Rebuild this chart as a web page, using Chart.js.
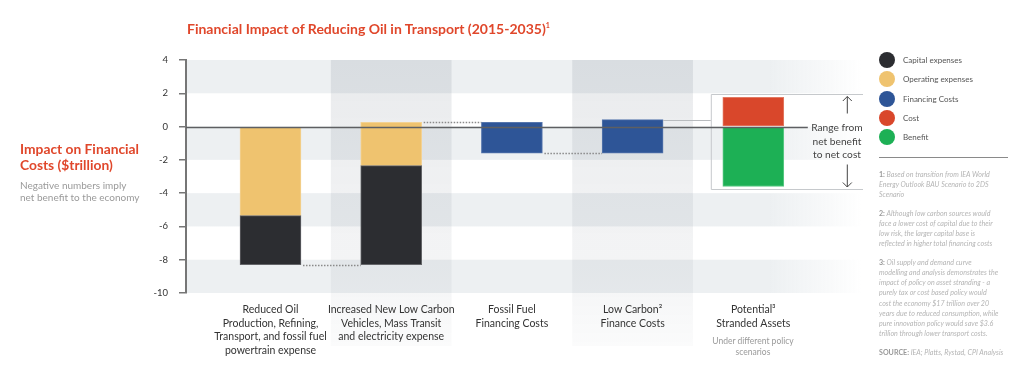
<!DOCTYPE html>
<html><head><meta charset="utf-8">
<script src="https://cdn.jsdelivr.net/npm/chart.js@4/dist/chart.umd.min.js"></script>
<style>
html,body{margin:0;padding:0;background:#fff;width:1024px;height:368px;overflow:hidden;font-family:Lato,'Open Sans',sans-serif;}
#wrap{position:relative;width:1024px;height:368px;}
canvas{position:absolute;left:0;top:0;}
.t{position:absolute;white-space:nowrap;}
.red{color:#e0472b;font-weight:700;}
.lg{position:absolute;left:879px;width:16px;height:16px;border-radius:50%;}
.ll{position:absolute;left:903px;font-size:8px;color:#555;line-height:10px;}
.fn{position:absolute;left:879px;font-size:7.1px;line-height:10.15px;color:#b5b5b5;font-style:italic;white-space:nowrap;}
.fn b{font-style:normal;color:#999;}
</style></head><body>
<div id="wrap">
<canvas id="c" width="1024" height="368"></canvas>
<div class="t red" style="left:187px;top:17px;font-size:14px;line-height:16px;">Financial Impact of Reducing Oil in Transport (2015-2035)<span style="font-size:7px;vertical-align:6px;">1</span></div>
<div class="t red" style="left:20px;top:141px;font-size:13.8px;line-height:16px;">Impact on Financial<br>Costs ($trillion)</div>
<div class="t" style="left:20px;top:180px;font-size:10px;line-height:11.5px;color:#9a9a9a;">Negative numbers imply<br>net benefit to the economy</div>
<div class="t" style="left:797px;width:80px;top:121px;font-size:10.2px;line-height:13.5px;color:#444;text-align:center;">Range from<br>net benefit<br>to net cost</div>
<div class="t" id="sub5" style="left:703px;width:100px;top:335.5px;font-size:8.5px;line-height:11px;color:#9a9a9a;text-align:center;white-space:normal;">Under different policy<br>scenarios</div>
<div id="legend"></div>
<div style="position:absolute;left:879px;top:157px;width:129px;height:1px;background:#8a8a8a;"></div>
<div class="fn" style="top:170px;"><b>1:</b> Based on transition from IEA World<br>Energy Outlook BAU Scenario to 2DS<br>Scenario</div>
<div class="fn" style="top:209px;"><b>2:</b> Although low carbon sources would<br>face a lower cost of capital due to their<br>low risk, the larger capital base is<br>reflected in higher total financing costs</div>
<div class="fn" style="top:258px;"><b>3:</b> Oil supply and demand curve<br>modelling and analysis demonstrates the<br>impact of policy on asset stranding - a<br>purely tax or cost based policy would<br>cost the economy $17 trillion over 20<br>years due to reduced consumption, while<br>pure innovation policy would save $3.6<br>trillion through lower transport costs.</div>
<div class="fn" style="top:348px;"><b>SOURCE:</b> IEA; Platts, Rystad, CPI Analysis</div>
</div>
<script>
// ---------- DATA ----------
const categories = [
  ['Reduced Oil','Production, Refining,','Transport, and fossil fuel','powertrain expense'],
  ['Increased New Low Carbon','Vehicles, Mass Transit','and electricity expense'],
  ['Fossil Fuel','Financing Costs'],
  ['Low Carbon\u00B2','Finance Costs'],
  ['Potential\u00B3','Stranded Assets']
];
const seriesNames = ['Capital expenses','Operating expenses','Financing Costs','Cost','Benefit'];
// floating bar ranges [low, high] in $trillion, per category
const capitalExpenses   = [[-8.3,-5.35],[-8.3,-2.35],null,null,null];
const operatingExpenses = [[-5.35,0],[-2.35,0.25],null,null,null];
const financingCosts    = [null,null,[-1.6,0.25],[-1.6,0.42],null];
const costValues        = [null,null,null,null,[0,1.75]];
const benefitValues     = [null,null,null,null,[-3.6,0]];
const yTicks = [4,2,0,-2,-4,-6,-8,-10];
const connectorLevels = ['low','high','low']; // waterfall links between consecutive categories

// ---------- STYLE ----------
const colors  = ['#2c2d31','#efc36f','#2e5597','#d9472b','#1db055'];
const borders = ['#646569','#f3d294','#5676ad','#e37a63','#5cc985'];
const allSeries = [capitalExpenses, operatingExpenses, financingCosts, costValues, benefitValues];

// legend
const lg = document.getElementById('legend');
seriesNames.forEach((n,i)=>{
  const cy = 60 + i*19.25;
  const d = document.createElement('div'); d.className='lg'; d.style.top=(cy-8)+'px'; d.style.background=colors[i]; lg.appendChild(d);
  const t = document.createElement('div'); t.className='ll'; t.style.top=(cy-5)+'px'; t.textContent=n; lg.appendChild(t);
});

function toPoints(arr){ const out=[]; arr.forEach((v,i)=>{ if(v) out.push({x:i,y:v}); }); return out; }

function catExtent(chart,i){
  let lo=Infinity,hi=-Infinity,left=Infinity,right=-Infinity;
  chart.data.datasets.forEach((ds,d)=>{
    const meta=chart.getDatasetMeta(d);
    ds.data.forEach((pt,k)=>{
      if(pt.x!==i) return;
      const el=meta.data[k];
      lo=Math.min(lo,pt.y[0]); hi=Math.max(hi,pt.y[1]);
      left=Math.min(left,el.x-el.width/2); right=Math.max(right,el.x+el.width/2);
    });
  });
  return {lo,hi,left,right};
}

const decor = {
  id:'decor',
  beforeDraw(chart){
    const ctx=chart.ctx, a=chart.chartArea, xs=chart.scales.x, ys=chart.scales.y;
    ctx.save();
    const fadeR = 862;
    const g = ctx.createLinearGradient(a.left,0,fadeR,0);
    g.addColorStop(0,'#edf0f2'); g.addColorStop((770-a.left)/(fadeR-a.left),'#edf0f2'); g.addColorStop(1,'rgba(237,240,242,0)');
    ctx.fillStyle=g;
    for(let k=0;k<yTicks.length-1;k+=2){
      const y0=ys.getPixelForValue(yTicks[k]), y1=ys.getPixelForValue(yTicks[k+1]);
      ctx.fillRect(a.left,y0,fadeR-a.left,y1-y0);
    }
    const bottom=346;
    const vg = ctx.createLinearGradient(0,a.top,0,bottom);
    vg.addColorStop(0,'rgba(40,55,75,0.10)'); vg.addColorStop(0.75,'rgba(40,55,75,0.05)'); vg.addColorStop(1,'rgba(40,55,75,0.02)');
    ctx.fillStyle=vg;
    [1,3].forEach(i=>{
      const x0=xs.getPixelForValue(i-0.5), x1=xs.getPixelForValue(i+0.5);
      ctx.fillRect(x0,a.top,x1-x0,bottom-a.top);
    });
    ctx.restore();
  },
  afterDatasetsDraw(chart){
    const ctx=chart.ctx, a=chart.chartArea, ys=chart.scales.y;
    const n=categories.length;
    const ext=[]; for(let i=0;i<n;i++) ext.push(catExtent(chart,i));
    ctx.save();
    // dotted waterfall connectors
    ctx.strokeStyle='#8a8a8a'; ctx.lineWidth=1.5; ctx.setLineDash([1.5,1.5]);
    connectorLevels.forEach((lvl,i)=>{
      const v = lvl==='low' ? ext[i].lo : ext[i].hi;
      const y = Math.round(ys.getPixelForValue(v))+0.5;
      ctx.beginPath(); ctx.moveTo(ext[i].right+2,y); ctx.lineTo(ext[i+1].left,y); ctx.stroke();
    });
    ctx.setLineDash([]);
    // range box around last category
    const L=ext[n-1], P=ext[n-2];
    const bx=L.left-12, bRight=863;
    const bTop=Math.round(ys.getPixelForValue(L.hi))-2.5, bBot=Math.round(ys.getPixelForValue(L.lo))+3.5;
    ctx.strokeStyle='#c6c9cc'; ctx.lineWidth=1;
    ctx.beginPath(); ctx.moveTo(bRight,bTop); ctx.lineTo(bx+0.5,bTop); ctx.lineTo(bx+0.5,bBot); ctx.lineTo(bRight,bBot); ctx.stroke();
    // solid link from previous bar top to box
    const yl=Math.round(ys.getPixelForValue(P.hi))+0.5;
    ctx.strokeStyle='#b9bcbf';
    ctx.beginPath(); ctx.moveTo(P.right,yl); ctx.lineTo(bx,yl); ctx.stroke();
    // zero line
    const y0=Math.round(ys.getPixelForValue(0))+0.5;
    ctx.strokeStyle='#5e5f62'; ctx.lineWidth=1.3;
    ctx.beginPath(); ctx.moveTo(a.left,y0); ctx.lineTo(L.right+24,y0); ctx.stroke();
    // arrows
    const ax=L.right+63.5;
    ctx.strokeStyle='#444'; ctx.lineWidth=1;
    const upTip=bTop+2, upEnd=upTip+17, dnStart=bBot-25, dnTip=bBot-2.5;
    ctx.beginPath();
    ctx.moveTo(ax,upEnd); ctx.lineTo(ax,upTip); ctx.moveTo(ax-4.5,upTip+4.5); ctx.lineTo(ax,upTip); ctx.lineTo(ax+4.5,upTip+4.5);
    ctx.moveTo(ax,dnStart); ctx.lineTo(ax,dnTip); ctx.moveTo(ax-4.5,dnTip-4.5); ctx.lineTo(ax,dnTip); ctx.lineTo(ax+4.5,dnTip-4.5);
    ctx.stroke();
    ctx.restore();
  }
};

new Chart(document.getElementById('c'),{
  type:'bar',
  data:{
    datasets: allSeries.map((arr,i)=>({
      label:seriesNames[i], data:toPoints(arr),
      backgroundColor:colors[i], borderColor:borders[i], borderWidth:1, borderSkipped:false,
      grouped:false, barThickness:61
    }))
  },
  options:{
    responsive:false, animation:false, devicePixelRatio:1,
    layout:{padding:{left:150,right:164,top:60,bottom:0}},
    plugins:{legend:{display:false},tooltip:{enabled:false}},
    scales:{
      x:{
        type:'linear', min:-0.7, max:4.884, offset:false,
        grid:{display:false,drawTicks:false,offset:false}, border:{display:false},
        afterBuildTicks:(s)=>{ s.ticks = categories.map((c,i)=>({value:i})); },
        afterFit:(s)=>{ s.height=75; },
        ticks:{autoSkip:false,maxRotation:0,minRotation:0,padding:10,color:'#333',
          font:{family:'Lato',size:10.5,lineHeight:1.286},
          callback:(v)=>categories[v] || ''}
      },
      y:{
        min:-10,max:4,
        afterBuildTicks:(s)=>{ s.ticks = yTicks.map(v=>({value:v})); },
        afterFit:(s)=>{ s.width=36; },
        grid:{drawOnChartArea:false,drawTicks:true,tickLength:7,color:'#767676',lineWidth:1.5},
        border:{display:true,color:'#767676',width:2},
        ticks:{padding:11,color:'#333',font:{family:'Lato',size:9.5}}
      }
    }
  },
  plugins:[decor]
});
</script>
</body></html>
